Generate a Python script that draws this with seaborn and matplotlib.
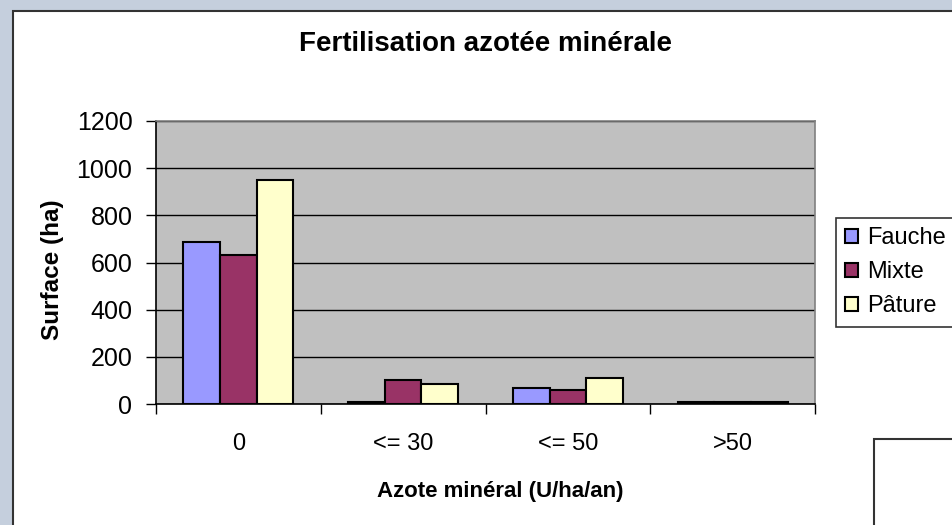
import matplotlib
matplotlib.use("Agg")
import matplotlib.pyplot as plt
from matplotlib.patches import Rectangle
import numpy as np
import pandas as pd
import seaborn as sns

# Chart data
categories = ["0", "<= 30", "<= 50", ">50"]
series = ["Fauche", "Mixte", "Pâture"]
fauche = [685, 8, 68, 8]
mixte = [630, 100, 60, 8]
pature = [950, 84, 110, 8]
y_ticks = [0, 200, 400, 600, 800, 1000, 1200]

COLORS = {"Fauche": "#9999FF", "Mixte": "#993366", "Pâture": "#FFFFCC"}

df = pd.DataFrame({
    "categorie": categories * 3,
    "type": [s for s in series for _ in categories],
    "surface": fauche + mixte + pature,
})

sns.set_theme(style="white")
plt.rcParams["font.family"] = ["Liberation Sans", "DejaVu Sans"]
plt.rcParams["text.color"] = "black"
plt.rcParams["axes.labelcolor"] = "black"
plt.rcParams["xtick.color"] = "black"
plt.rcParams["ytick.color"] = "black"

W, H = 952, 525
fig = plt.figure(figsize=(W / 100, H / 100), dpi=100)
fig.patch.set_facecolor("#c5cfdd")

# white chart area + the stray box in the bottom right corner
fig.patches.append(Rectangle((13 / W, -0.1), 1.2, 1.1 - 11 / H, transform=fig.transFigure,
                             facecolor="white", edgecolor="#333333", linewidth=1.5, zorder=-10))
fig.patches.append(Rectangle((874 / W, -0.1), 0.2, 0.1 + (H - 439) / H, transform=fig.transFigure,
                             facecolor="white", edgecolor="#333333", linewidth=1.5, zorder=-9))

ax = fig.add_axes([156 / W, 121 / H, 659 / W, 283 / H])
ax.set_facecolor("#C0C0C0")

sns.barplot(
    data=df, x="categorie", y="surface", hue="type",
    order=categories, hue_order=series, palette=COLORS,
    width=0.667, gap=0, edgecolor="black", linewidth=1.5,
    saturation=1, errorbar=None, ax=ax, zorder=3,
)

ax.set_ylim(0, 1200)
ax.set_xlim(-0.5, 3.5)
ax.set_yticks(y_ticks)
ax.yaxis.grid(True, color="black", linewidth=1)
ax.set_axisbelow(True)

for side in ["top", "right"]:
    ax.spines[side].set_color("#808080")
    ax.spines[side].set_linewidth(1.2)
for side in ["left", "bottom"]:
    ax.spines[side].set_color("black")
    ax.spines[side].set_linewidth(1.2)

ax.tick_params(axis="y", labelsize=18, length=7, width=1, pad=10, left=True, color="black")
ax.tick_params(axis="x", which="major", labelsize=17, length=0, pad=21)
ax.set_xticks(np.arange(-0.5, 4, 1), minor=True)
ax.tick_params(axis="x", which="minor", length=7, width=1, bottom=True, color="black")

ax.set_xlabel("Azote minéral (U/ha/an)", fontsize=16, fontweight="bold")
ax.set_ylabel("Surface (ha)", fontsize=17.5, fontweight="bold")
ax.xaxis.set_label_coords(0.522, -0.272)
ax.yaxis.set_label_coords(-0.14, 0.475)

fig.text(486 / W, 1 - 44 / H, "Fertilisation azotée minérale", ha="center", va="center",
         fontsize=20, fontweight="bold")

handles, labels = ax.get_legend_handles_labels()
leg = ax.legend(
    handles, labels, loc="upper left", bbox_to_anchor=(836 / W, 1 - 218 / H),
    bbox_transform=fig.transFigure, fontsize=17, frameon=True, fancybox=False,
    borderaxespad=0, borderpad=0.4, labelspacing=0.5, handlelength=0.55,
    handleheight=0.55, handletextpad=0.35,
)
leg.get_frame().set_edgecolor("black")
leg.get_frame().set_linewidth(1.2)
leg.get_frame().set_facecolor("white")
for p in leg.get_patches():
    p.set_edgecolor("black")
    p.set_linewidth(1.5)

fig.savefig("out.png", dpi=100, facecolor=fig.get_facecolor())
